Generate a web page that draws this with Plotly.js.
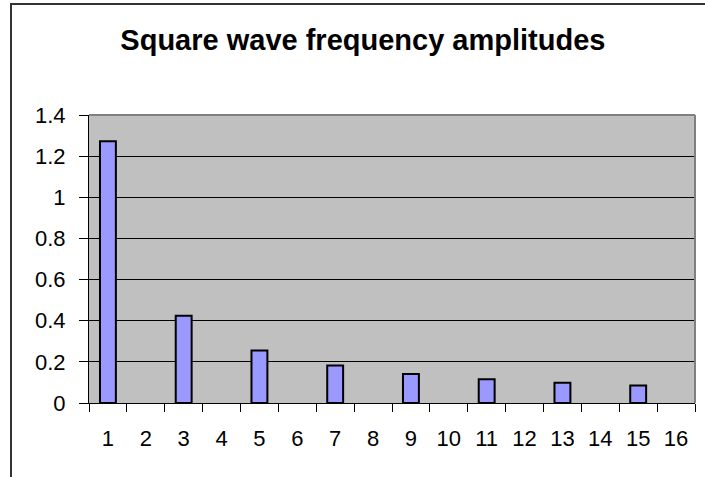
<!DOCTYPE html>
<html>
<head>
<meta charset="utf-8">
<script src="https://cdn.plot.ly/plotly-3.0.1.min.js"></script>
<style>
html,body{margin:0;padding:0;background:#fff;overflow:hidden;}
#wrap{position:relative;width:705px;height:477px;}
#frame{position:absolute;left:10px;top:3px;width:720px;height:500px;border-left:2px solid #333;border-top:2px solid #333;box-sizing:border-box;pointer-events:none;z-index:5;}
#chart{position:absolute;left:0;top:0;width:705px;height:477px;}
</style>
</head>
<body>
<div id="wrap">
<div id="chart"></div>
<div id="frame"></div>
</div>
<script>
const harmonics = ['1','2','3','4','5','6','7','8','9','10','11','12','13','14','15','16'];
const amplitudes = [1.273, null, 0.424, null, 0.255, null, 0.182, null, 0.141, null, 0.116, null, 0.098, null, 0.085, null];
const yTicks = [0, 0.2, 0.4, 0.6, 0.8, 1, 1.2, 1.4];
const chartTitle = 'Square wave frequency amplitudes';

const trace = {
  type: 'bar',
  x: harmonics,
  y: amplitudes,
  width: 0.42,
  marker: {color: '#9999FF', line: {color: '#000000', width: 2}},
  hoverinfo: 'x+y'
};

const layout = {
  width: 705,
  height: 477,
  margin: {l: 89, r: 10, t: 115, b: 74, pad: 0},
  paper_bgcolor: '#ffffff',
  plot_bgcolor: '#C0C0C0',
  showlegend: false,
  font: {family: 'Arial, "Liberation Sans", sans-serif', color: '#000', size: 22},
  title: {
    text: '<b>' + chartTitle + '</b>',
    font: {family: 'Arial, "Liberation Sans", sans-serif', size: 29, color: '#000'},
    x: 0.452, xanchor: 'center', xref: 'paper',
    y: 0.917, yanchor: 'middle'
  },
  xaxis: {
    type: 'category',
    range: [-0.5, 15.5],
    showgrid: false,
    zeroline: false,
    showline: true, linecolor: '#000', linewidth: 1,
    ticks: 'outside', ticklen: 8, tickcolor: '#000', tickwidth: 1,
    tickson: 'boundaries',
    ticklabelstandoff: 16,
    tickfont: {size: 22},
    fixedrange: true
  },
  yaxis: {
    range: [0, 1.4],
    tickvals: yTicks,
    ticktext: yTicks.map(v => String(v)),
    showgrid: true, gridcolor: '#000', gridwidth: 1,
    zeroline: false,
    showline: true, linecolor: '#000', linewidth: 1,
    ticks: 'outside', ticklen: 9, tickcolor: '#000', tickwidth: 1,
    ticklabelstandoff: 9,
    tickfont: {size: 22},
    fixedrange: true
  },
  shapes: [
    {type: 'line', xref: 'paper', yref: 'paper', x0: 0, x1: 1, y0: 1, y1: 1, line: {color: '#808080', width: 2}},
    {type: 'line', xref: 'paper', yref: 'paper', x0: 1, x1: 1, y0: 0, y1: 1, line: {color: '#808080', width: 2}}
  ]
};

Plotly.newPlot('chart', [trace], layout, {displayModeBar: false, staticPlot: true});
</script>
</body>
</html>
